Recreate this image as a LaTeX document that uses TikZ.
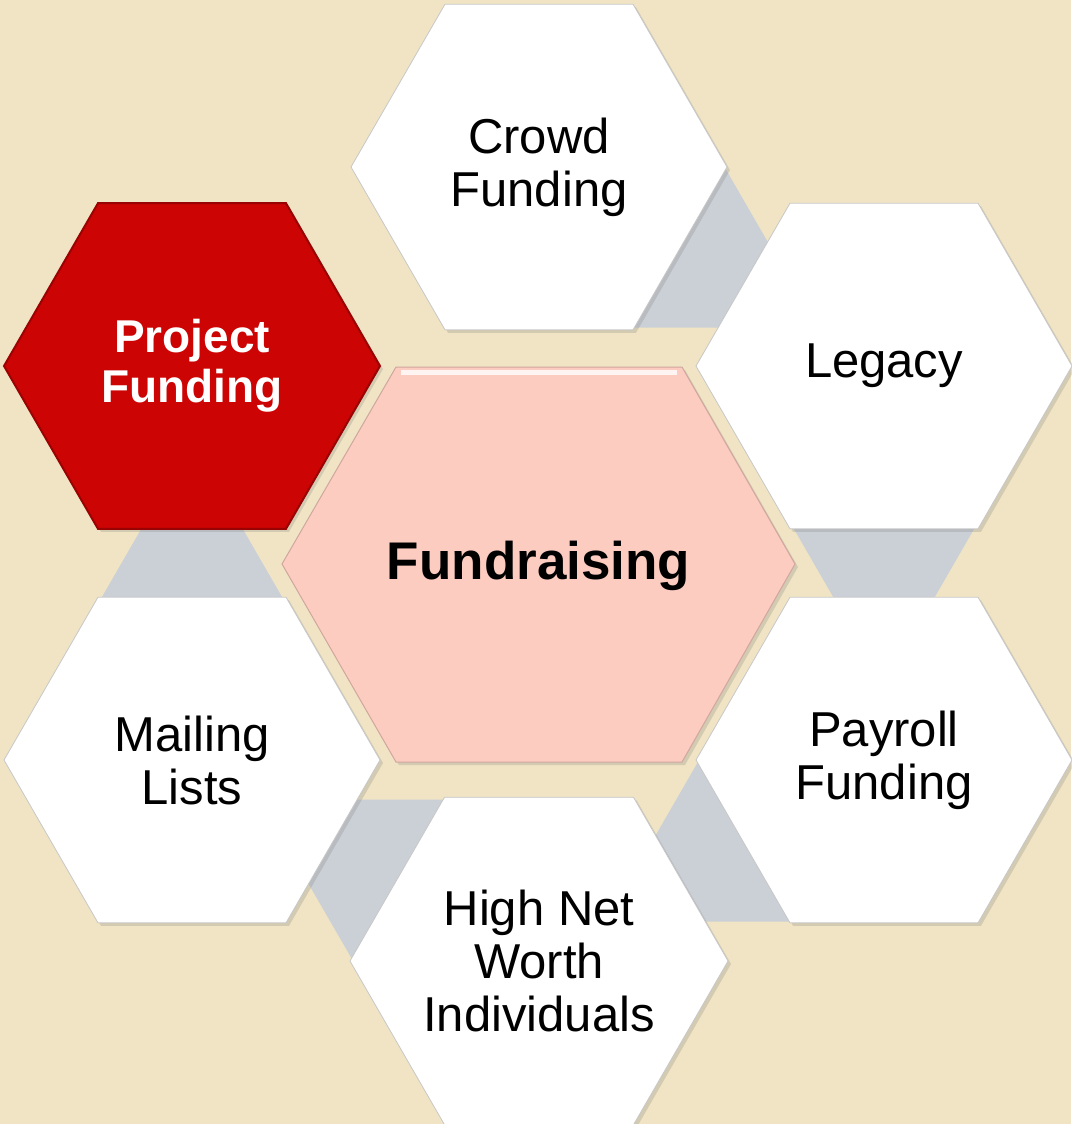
\documentclass[tikz,border=0pt]{standalone}
\usepackage{fontspec}
\setmainfont{Liberation Sans}
\usepackage{tikz}
\usetikzlibrary{shapes.geometric, shadows, calc, backgrounds}
\definecolor{linen}{RGB}{240,228,196}
\definecolor{linkgray}{RGB}{203,208,214}
\definecolor{corepink}{RGB}{253,204,193}
\definecolor{leadred}{RGB}{204,4,4}
\newcommand*{\topicfont}{\fontsize{49}{53}\selectfont}

\begin{document}
\begin{tikzpicture}[x=1pt, y=-1pt]
      \useasboundingbox (0,0) rectangle (1071,1124);

      {\tikzstyle{every node}=[regular polygon, regular polygon sides=6,
          minimum size=376pt, inner sep=0pt, fill=white, draw=black!22,
          line width=0.8pt, align=center, font=\topicfont,
          drop shadow={opacity=0.25, shadow xshift=3pt, shadow yshift=-3pt}]
        \foreach \name/\x/\y/\txt in {crowd/539/167/{Crowd\\Funding},
            legacy/884/366/Legacy, payroll/884/760/{Payroll\\Funding},
            high/539/961/{High Net\\Worth\\Individuals},
            mailing/192/760/{Mailing\\Lists}}
        {
          \node (\name) at (\x,\y) {\txt};
        }

        \node [fill=leadred, draw=leadred!75!black, line width=2pt,
            text=white, font=\bfseries\fontsize{46}{50}\selectfont]
          (project) at (192,366) {Project\\Funding};
      }

      \begin{scope}[on background layer]
        \fill[linen] (0,0) rectangle (1071,1124);
        \tikzstyle{every node}=[regular polygon, regular polygon sides=3,
          minimum size=244pt, inner sep=0pt, fill=linkgray]
        \node (link1) at ($(crowd)!0.5!(legacy)$) {};
        \node [regular polygon rotate=180] (link2) at ($(legacy)!0.5!(payroll)$) {};
        \node (link3) at ($(payroll)!0.5!(high)$) {};
        \node [regular polygon rotate=180] (link4) at ($(high)!0.5!(mailing)$) {};
        \node (link5) at ($(mailing)!0.5!(project)$) {};
      \end{scope}

      \path [fill=corepink, draw=corepink!82!black, line width=1pt,
          drop shadow={opacity=0.25, shadow xshift=3pt, shadow yshift=-3pt}]
        (282,564) -- (396,367) -- (682,367) -- (795,564) -- (682,762)
        -- (396,762) -- cycle;
      \draw [white, opacity=0.8, line width=5pt]
        (401,372) -- (677,372);
      \node [font=\bfseries\fontsize{53}{60}\selectfont] (core) at (538.5,566)
        {Fundraising};
    \end{tikzpicture}
\end{document}
